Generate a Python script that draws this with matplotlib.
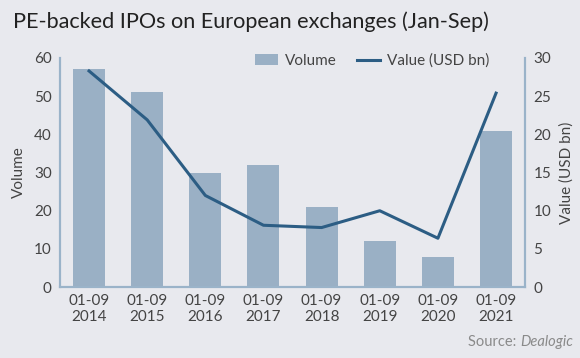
import numpy as np
import matplotlib
matplotlib.use('Agg')
import matplotlib.pyplot as plt

years = ['2014', '2015', '2016', '2017', '2018', '2019', '2020', '2021']
tick_labels = ['01-09\n' + y for y in years]
volume = [57, 51, 30, 32, 21, 12, 8, 41]
value_bn = [28.3, 21.9, 12.0, 8.1, 7.8, 10.0, 6.4, 25.4]

bg = '#e8e9ee'
bar_col = '#9ab0c5'
line_col = '#2c5d84'
spine_col = '#9ab3c9'
txt = '#444444'

plt.rcParams['font.family'] = ['Lato', 'DejaVu Sans']

fig = plt.figure(figsize=(5.8, 3.58), dpi=100, facecolor=bg)
ax = fig.add_axes([0.1034, 0.198, 0.802, 0.640], facecolor=bg)
ax2 = ax.twinx()

x = np.arange(len(years))
bars = ax.bar(x, volume, width=0.55, color=bar_col, label='Volume', zorder=2)
line, = ax2.plot(x, value_bn, color=line_col, lw=2.2, label='Value (USD bn)', zorder=3)

ax.set_xlim(-0.5, 7.5)
ax.set_ylim(0, 60)
ax2.set_ylim(0, 30)
ax.set_yticks(range(0, 61, 10))
ax2.set_yticks(range(0, 31, 5))
ax.set_xticks(x)
ax.set_xticklabels(tick_labels)

for a in (ax, ax2):
    a.spines['top'].set_visible(False)
    for s in ('left', 'right', 'bottom'):
        a.spines[s].set_color(spine_col)
        a.spines[s].set_linewidth(1.5)
    a.tick_params(length=0, labelsize=11, colors=txt, pad=6)

ax.tick_params(axis='x', pad=5)
ax.set_ylabel('Volume', fontsize=11, color=txt, labelpad=6)
ax2.set_ylabel('Value (USD bn)', fontsize=11, color=txt, rotation=90, labelpad=6)

fig.legend([bars, line], ['Volume', 'Value (USD bn)'], loc='center left',
           bbox_to_anchor=(0.426, 0.83), ncol=2, frameon=False, borderpad=0,
           fontsize=11, labelcolor=txt, handlelength=1.5, columnspacing=1.3,
           handletextpad=0.5)

fig.text(0.022, 0.938, 'PE-backed IPOs on European exchanges (Jan-Sep)',
         fontsize=15.6, color='#222222', va='center', ha='left')
src = fig.text(0.988, 0.045, 'Source: ', fontsize=10.5, color='#8a8a8a', ha='right',
               va='center')
t = fig.text(0.988, 0.045, 'Dealogic', fontsize=10.5, color='#8a8a8a', ha='right',
             va='center', style='italic')

# put "Source: " just left of the italic word
fig.canvas.draw()
bb = t.get_window_extent(fig.canvas.get_renderer())
src.set_position((bb.x0 / fig.bbox.width, 0.045))

fig.savefig('out.png', dpi=100, facecolor=bg)
